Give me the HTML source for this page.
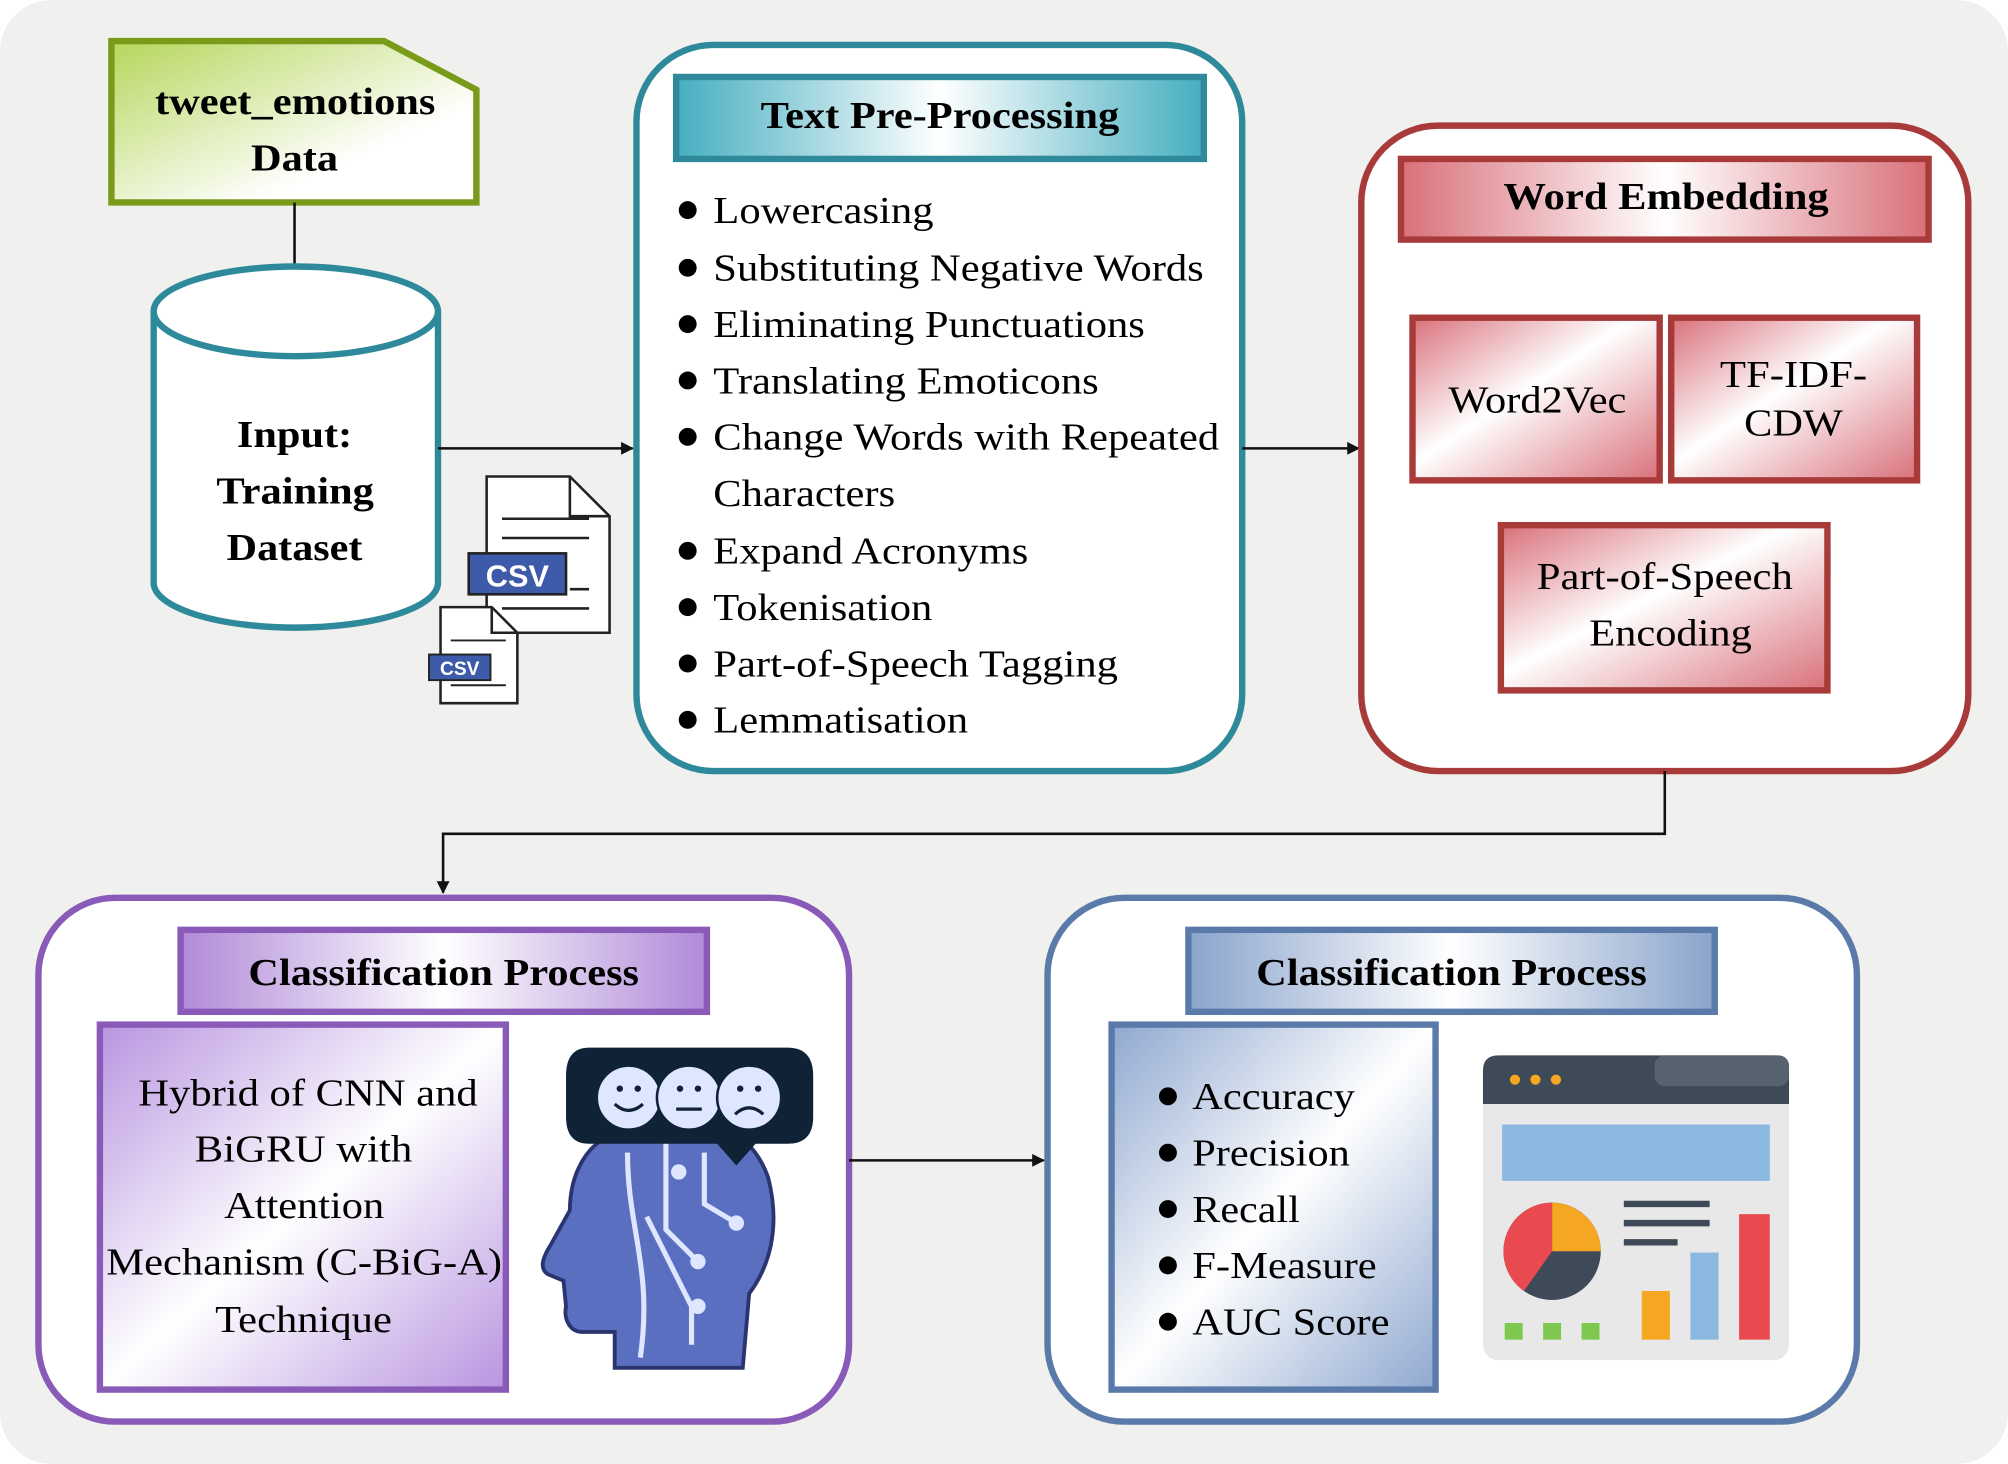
<!DOCTYPE html>
<html><head><meta charset="utf-8"><style>
html,body{margin:0;padding:0;background:#fff;}
svg{display:block;}
text{font-family:"Liberation Serif",serif;}
</style></head><body>
<svg width="2008" height="1464" viewBox="0 0 1568 1143" xmlns="http://www.w3.org/2000/svg">
<defs>
<linearGradient id="gG" x1="0" y1="0" x2="1" y2="1"><stop offset="0" stop-color="#b5d65a"/><stop offset="0.7" stop-color="#fff"/></linearGradient>
<linearGradient id="gT" x1="0" y1="0" x2="1" y2="0"><stop offset="0" stop-color="#45aec0"/><stop offset="0.5" stop-color="#fff"/><stop offset="1" stop-color="#45aec0"/></linearGradient>
<linearGradient id="gR" x1="0" y1="0" x2="1" y2="0"><stop offset="0" stop-color="#d9707a"/><stop offset="0.5" stop-color="#fff"/><stop offset="1" stop-color="#d9707a"/></linearGradient>
<linearGradient id="gR2" x1="0" y1="0" x2="1" y2="1"><stop offset="0" stop-color="#d9707a"/><stop offset="0.45" stop-color="#fff"/><stop offset="1" stop-color="#d9707a"/></linearGradient>
<linearGradient id="gP" x1="0" y1="0" x2="1" y2="0"><stop offset="0" stop-color="#b08ad8"/><stop offset="0.5" stop-color="#fff"/><stop offset="1" stop-color="#b08ad8"/></linearGradient>
<linearGradient id="gP2" x1="0" y1="0" x2="1" y2="1"><stop offset="0" stop-color="#b895e0"/><stop offset="0.5" stop-color="#fff"/><stop offset="1" stop-color="#b895e0"/></linearGradient>
<linearGradient id="gB" x1="0" y1="0" x2="1" y2="0"><stop offset="0" stop-color="#8aa4cc"/><stop offset="0.5" stop-color="#fff"/><stop offset="1" stop-color="#8aa4cc"/></linearGradient>
<linearGradient id="gB2" x1="0" y1="0" x2="1" y2="1"><stop offset="0" stop-color="#8fa8d0"/><stop offset="0.5" stop-color="#fff"/><stop offset="1" stop-color="#8fa8d0"/></linearGradient>
<marker id="ar" markerWidth="10" markerHeight="10" refX="9" refY="5" orient="auto" markerUnits="userSpaceOnUse"><path d="M0,0 L10,5 L0,10 Z" fill="#111"/></marker>
</defs>
<rect x="0" y="0" width="1568" height="1143" rx="40" fill="#f0f0ee"/>

<polygon points="87,32 300,32 372,70 372,158 87,158" fill="url(#gG)" stroke="#7a9a1a" stroke-width="5"/>
<g font-size="30" font-weight="bold" lengthAdjust="spacingAndGlyphs">
<text x="121" y="89" textLength="219" lengthAdjust="spacingAndGlyphs">tweet_emotions</text>
<text x="196" y="133" textLength="68" lengthAdjust="spacingAndGlyphs">Data</text>
</g>
<line x1="230" y1="158" x2="230" y2="210" stroke="#111" stroke-width="2"/>

<path d="M120,243 L120,455 A111,35 0 0 0 342,455 L342,243" fill="#fff" stroke="#2e8a9a" stroke-width="5"/>
<ellipse cx="231" cy="243" rx="111" ry="35" fill="#fff" stroke="#2e8a9a" stroke-width="5"/>
<g font-size="30" font-weight="bold">
<text x="185" y="349" textLength="90" lengthAdjust="spacingAndGlyphs">Input:</text>
<text x="169" y="393" textLength="123" lengthAdjust="spacingAndGlyphs">Training</text>
<text x="177" y="437" textLength="106" lengthAdjust="spacingAndGlyphs">Dataset</text>
</g>

<path d="M380,372 L445,372 L476,403 L476,494 L380,494 Z" fill="#fff" stroke="#222" stroke-width="2"/>
<path d="M445,372 L445,403 L476,403" fill="none" stroke="#222" stroke-width="2"/>
<line x1="392" y1="405" x2="460" y2="405" stroke="#222" stroke-width="2"/>
<line x1="392" y1="420" x2="460" y2="420" stroke="#222" stroke-width="2"/>
<line x1="445" y1="460" x2="460" y2="460" stroke="#222" stroke-width="2"/>
<line x1="392" y1="475" x2="460" y2="475" stroke="#222" stroke-width="2"/>
<rect x="366" y="432" width="76" height="32" fill="#3d5ba8" stroke="#222" stroke-width="2"/>
<text x="404" y="458" font-size="24" font-weight="bold" fill="#fff" text-anchor="middle" style="font-family:'Liberation Sans',sans-serif">CSV</text>
<path d="M344,474 L384,474 L404,494 L404,549 L344,549 Z" fill="#fff" stroke="#222" stroke-width="2"/>
<path d="M384,474 L384,494 L404,494" fill="none" stroke="#222" stroke-width="2"/>
<line x1="352" y1="500" x2="395" y2="500" stroke="#222" stroke-width="1.5"/>
<line x1="352" y1="535" x2="395" y2="535" stroke="#222" stroke-width="1.5"/>
<rect x="335" y="511" width="48" height="20" fill="#3d5ba8" stroke="#222" stroke-width="1.5"/>
<text x="359" y="527" font-size="15" font-weight="bold" fill="#fff" text-anchor="middle" style="font-family:'Liberation Sans',sans-serif">CSV</text>

<line x1="342" y1="350" x2="494" y2="350" stroke="#111" stroke-width="2" marker-end="url(#ar)"/>

<rect x="497" y="35" width="473" height="567" rx="60" fill="#fff" stroke="#2e8a9a" stroke-width="5"/>
<rect x="528" y="60" width="412" height="64" fill="url(#gT)" stroke="#2e8a9a" stroke-width="5"/>
<text x="594" y="100" font-size="30" font-weight="bold" textLength="280" lengthAdjust="spacingAndGlyphs">Text Pre-Processing</text>
<g font-size="30">
<circle cx="537" cy="164" r="7"/><text x="557" y="174" textLength="172" lengthAdjust="spacingAndGlyphs">Lowercasing</text>
<circle cx="537" cy="209" r="7"/><text x="557" y="219" textLength="383" lengthAdjust="spacingAndGlyphs">Substituting Negative Words</text>
<circle cx="537" cy="253" r="7"/><text x="557" y="263" textLength="337" lengthAdjust="spacingAndGlyphs">Eliminating Punctuations</text>
<circle cx="537" cy="297" r="7"/><text x="557" y="307" textLength="301" lengthAdjust="spacingAndGlyphs">Translating Emoticons</text>
<circle cx="537" cy="341" r="7"/><text x="557" y="351" textLength="395" lengthAdjust="spacingAndGlyphs">Change Words with Repeated</text>
<text x="557" y="395" textLength="142" lengthAdjust="spacingAndGlyphs">Characters</text>
<circle cx="537" cy="430" r="7"/><text x="557" y="440" textLength="246" lengthAdjust="spacingAndGlyphs">Expand Acronyms</text>
<circle cx="537" cy="474" r="7"/><text x="557" y="484" textLength="171" lengthAdjust="spacingAndGlyphs">Tokenisation</text>
<circle cx="537" cy="518" r="7"/><text x="557" y="528" textLength="316" lengthAdjust="spacingAndGlyphs">Part-of-Speech Tagging</text>
<circle cx="537" cy="562" r="7"/><text x="557" y="572" textLength="199" lengthAdjust="spacingAndGlyphs">Lemmatisation</text>
</g>
<line x1="970" y1="350" x2="1061" y2="350" stroke="#111" stroke-width="2" marker-end="url(#ar)"/>

<rect x="1063" y="98" width="474" height="504" rx="60" fill="#fff" stroke="#a83a3a" stroke-width="5"/>
<rect x="1094" y="124" width="412" height="63" fill="url(#gR)" stroke="#a83a3a" stroke-width="5"/>
<text x="1174" y="163" font-size="30" font-weight="bold" textLength="254" lengthAdjust="spacingAndGlyphs">Word Embedding</text>
<rect x="1103" y="248" width="193" height="127" fill="url(#gR2)" stroke="#a83a3a" stroke-width="5"/>
<text x="1131" y="322" font-size="30" textLength="139" lengthAdjust="spacingAndGlyphs">Word2Vec</text>
<rect x="1305" y="248" width="192" height="127" fill="url(#gR2)" stroke="#a83a3a" stroke-width="5"/>
<text x="1343" y="302" font-size="30" textLength="115" lengthAdjust="spacingAndGlyphs">TF-IDF-</text>
<text x="1362" y="340" font-size="30" textLength="77" lengthAdjust="spacingAndGlyphs">CDW</text>
<rect x="1172" y="410" width="255" height="129" fill="url(#gR2)" stroke="#a83a3a" stroke-width="5"/>
<text x="1200" y="460" font-size="30" textLength="200" lengthAdjust="spacingAndGlyphs">Part-of-Speech</text>
<text x="1241" y="504" font-size="30" textLength="127" lengthAdjust="spacingAndGlyphs">Encoding</text>

<polyline points="1300,602 1300,651 346,651 346,697" fill="none" stroke="#111" stroke-width="2" marker-end="url(#ar)"/>

<rect x="30" y="701" width="633" height="409" rx="60" fill="#fff" stroke="#8a5ab8" stroke-width="5"/>
<rect x="141" y="726" width="411" height="64" fill="url(#gP)" stroke="#8a5ab8" stroke-width="5"/>
<text x="194" y="769" font-size="30" font-weight="bold" textLength="305" lengthAdjust="spacingAndGlyphs">Classification Process</text>
<rect x="78" y="800" width="317" height="285" fill="url(#gP2)" stroke="#8a5ab8" stroke-width="5"/>
<g font-size="30">
<text x="108" y="863" textLength="265" lengthAdjust="spacingAndGlyphs">Hybrid of CNN and</text>
<text x="152" y="907" textLength="170" lengthAdjust="spacingAndGlyphs">BiGRU with</text>
<text x="175" y="951" textLength="125" lengthAdjust="spacingAndGlyphs">Attention</text>
<text x="83" y="995" textLength="309" lengthAdjust="spacingAndGlyphs">Mechanism (C-BiG-A)</text>
<text x="168" y="1040" textLength="138" lengthAdjust="spacingAndGlyphs">Technique</text>
</g>
<path d="M470,890 C500,860 580,860 600,920 C610,960 600,990 585,1010 L580,1068 L480,1068 L480,1040 L455,1040 C445,1040 440,1030 442,1020 L440,1000 L428,995 C420,990 425,980 430,972 L445,945 C445,920 455,900 470,890 Z" fill="#5b6fc0" stroke="#2a3470" stroke-width="3"/>
<g stroke="#dfe6ff" stroke-width="4" fill="none">
<path d="M490,900 C490,960 510,990 500,1060"/>
<path d="M520,890 L520,960 L545,985"/>
<path d="M550,900 L550,940 L575,955"/>
<path d="M505,950 L540,1020 L540,1050"/>
</g>
<g fill="#dfe6ff"><circle cx="545" cy="985" r="6"/><circle cx="575" cy="955" r="6"/><circle cx="530" cy="915" r="6"/><circle cx="545" cy="1020" r="6"/></g>
<path d="M460,818 L615,818 Q635,818 635,840 L635,872 Q635,893 615,893 L590,893 L575,910 L560,893 L460,893 Q442,893 442,872 L442,840 Q442,818 460,818 Z" fill="#0f2236"/>
<g fill="#dfe6ff" stroke="#0f2236" stroke-width="2">
<circle cx="491" cy="857" r="25"/><circle cx="538" cy="857" r="25"/><circle cx="585" cy="857" r="25"/>
</g>
<g stroke="#0f2236" stroke-width="2.5" fill="none">
<path d="M480,862 Q491,872 502,862"/><line x1="528" y1="866" x2="548" y2="866"/><path d="M574,870 Q585,860 596,870"/>
</g>
<g fill="#0f2236"><circle cx="484" cy="850" r="2.5"/><circle cx="498" cy="850" r="2.5"/><circle cx="531" cy="850" r="2.5"/><circle cx="545" cy="850" r="2.5"/><circle cx="578" cy="850" r="2.5"/><circle cx="592" cy="850" r="2.5"/></g>

<line x1="663" y1="906" x2="815" y2="906" stroke="#111" stroke-width="2" marker-end="url(#ar)"/>

<rect x="818" y="701" width="632" height="409" rx="60" fill="#fff" stroke="#5a7aaa" stroke-width="5"/>
<rect x="928" y="726" width="411" height="64" fill="url(#gB)" stroke="#5a7aaa" stroke-width="5"/>
<text x="981" y="769" font-size="30" font-weight="bold" textLength="305" lengthAdjust="spacingAndGlyphs">Classification Process</text>
<rect x="868" y="800" width="253" height="285" fill="url(#gB2)" stroke="#5a7aaa" stroke-width="5"/>
<g font-size="30">
<circle cx="912" cy="856" r="7"/><text x="931" y="866" textLength="127" lengthAdjust="spacingAndGlyphs">Accuracy</text>
<circle cx="912" cy="900" r="7"/><text x="931" y="910" textLength="123" lengthAdjust="spacingAndGlyphs">Precision</text>
<circle cx="912" cy="944" r="7"/><text x="931" y="954" textLength="84" lengthAdjust="spacingAndGlyphs">Recall</text>
<circle cx="912" cy="988" r="7"/><text x="931" y="998" textLength="144" lengthAdjust="spacingAndGlyphs">F-Measure</text>
<circle cx="912" cy="1032" r="7"/><text x="931" y="1042" textLength="154" lengthAdjust="spacingAndGlyphs">AUC Score</text>
</g>
<rect x="1158" y="824" width="239" height="238" rx="12" fill="#e8e8e8"/>
<path d="M1170,824 L1385,824 Q1397,824 1397,836 L1397,862 L1158,862 L1158,836 Q1158,824 1170,824 Z" fill="#3e4a57"/>
<rect x="1292" y="824" width="105" height="24" rx="8" fill="#56626e"/>
<circle cx="1183" cy="843" r="4" fill="#f5a623"/><circle cx="1199" cy="843" r="4" fill="#f5a623"/><circle cx="1215" cy="843" r="4" fill="#f5a623"/>
<rect x="1173" y="878" width="209" height="44" fill="#8ab8e0"/>
<circle cx="1212" cy="977" r="38" fill="#3e4a57"/>
<path d="M1212,977 L1212,939 A38,38 0 0 1 1250,977 Z" fill="#f5a623"/>
<path d="M1212,977 L1190,1008 A38,38 0 0 1 1212,939 Z" fill="#e84a50"/>
<g stroke="#3e4a57" stroke-width="5"><line x1="1268" y1="940" x2="1335" y2="940"/><line x1="1268" y1="955" x2="1335" y2="955"/><line x1="1268" y1="970" x2="1310" y2="970"/></g>
<rect x="1282" y="1008" width="22" height="38" fill="#f5a623"/>
<rect x="1320" y="978" width="22" height="68" fill="#8ab8e0"/>
<rect x="1358" y="948" width="24" height="98" fill="#e84a50"/>
<rect x="1175" y="1033" width="14" height="13" fill="#7ec850"/><rect x="1205" y="1033" width="14" height="13" fill="#7ec850"/><rect x="1235" y="1033" width="14" height="13" fill="#7ec850"/>
</svg>
</body></html>
